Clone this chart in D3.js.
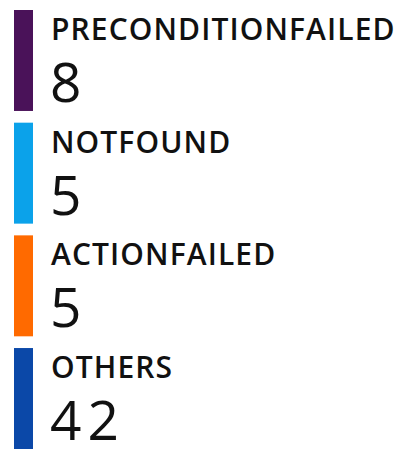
<!DOCTYPE html>
<html>
<head>
<meta charset="utf-8">
<script src="https://cdn.jsdelivr.net/npm/d3@7"></script>
<style>
  html, body { margin: 0; padding: 0; background: #ffffff; }
  svg { display: block; }
</style>
</head>
<body>
<div id="chart"></div>
<script>
// Status categories, their counts and marker colours
const categories = ["PRECONDITIONFAILED", "NOTFOUND", "ACTIONFAILED", "OTHERS"];
const counts = [8, 5, 5, 42];
const colors = ["#4a1259", "#0ba2ea", "#ff6a00", "#0b48a8"];

const width = 406, height = 454;

const svg = d3.select("#chart").append("svg")
  .attr("width", width)
  .attr("height", height);

const data = categories.map((c, i) => ({ name: c, value: counts[i], color: colors[i] }));

// one row per category, stacked top to bottom
const y = d3.scaleBand()
  .domain(categories)
  .range([10, 449])
  .paddingInner(0.104)
  .paddingOuter(0);

const color = d3.scaleOrdinal().domain(categories).range(colors);

const rows = svg.selectAll("g.row")
  .data(data)
  .join("g")
  .attr("class", "row")
  .attr("transform", d => `translate(0,${y(d.name)})`);

rows.append("rect")
  .attr("x", 14)
  .attr("y", 0)
  .attr("width", 19)
  .attr("height", y.bandwidth())
  .attr("fill", d => color(d.name));

rows.append("text")
  .attr("x", 51)
  .attr("y", 30)
  .attr("font-family", "'Open Sans', sans-serif")
  .attr("font-weight", 600)
  .attr("font-size", 30)
  .attr("letter-spacing", 1.1)
  .attr("fill", "#111")
  .text(d => d.name);

rows.append("text")
  .attr("x", 50)
  .attr("y", 92)
  .attr("font-family", "'Open Sans', sans-serif")
  .attr("font-size", 55)
  .attr("letter-spacing", 6)
  .attr("fill", "#111")
  .text(d => d3.format("d")(d.value));
</script>
</body>
</html>
